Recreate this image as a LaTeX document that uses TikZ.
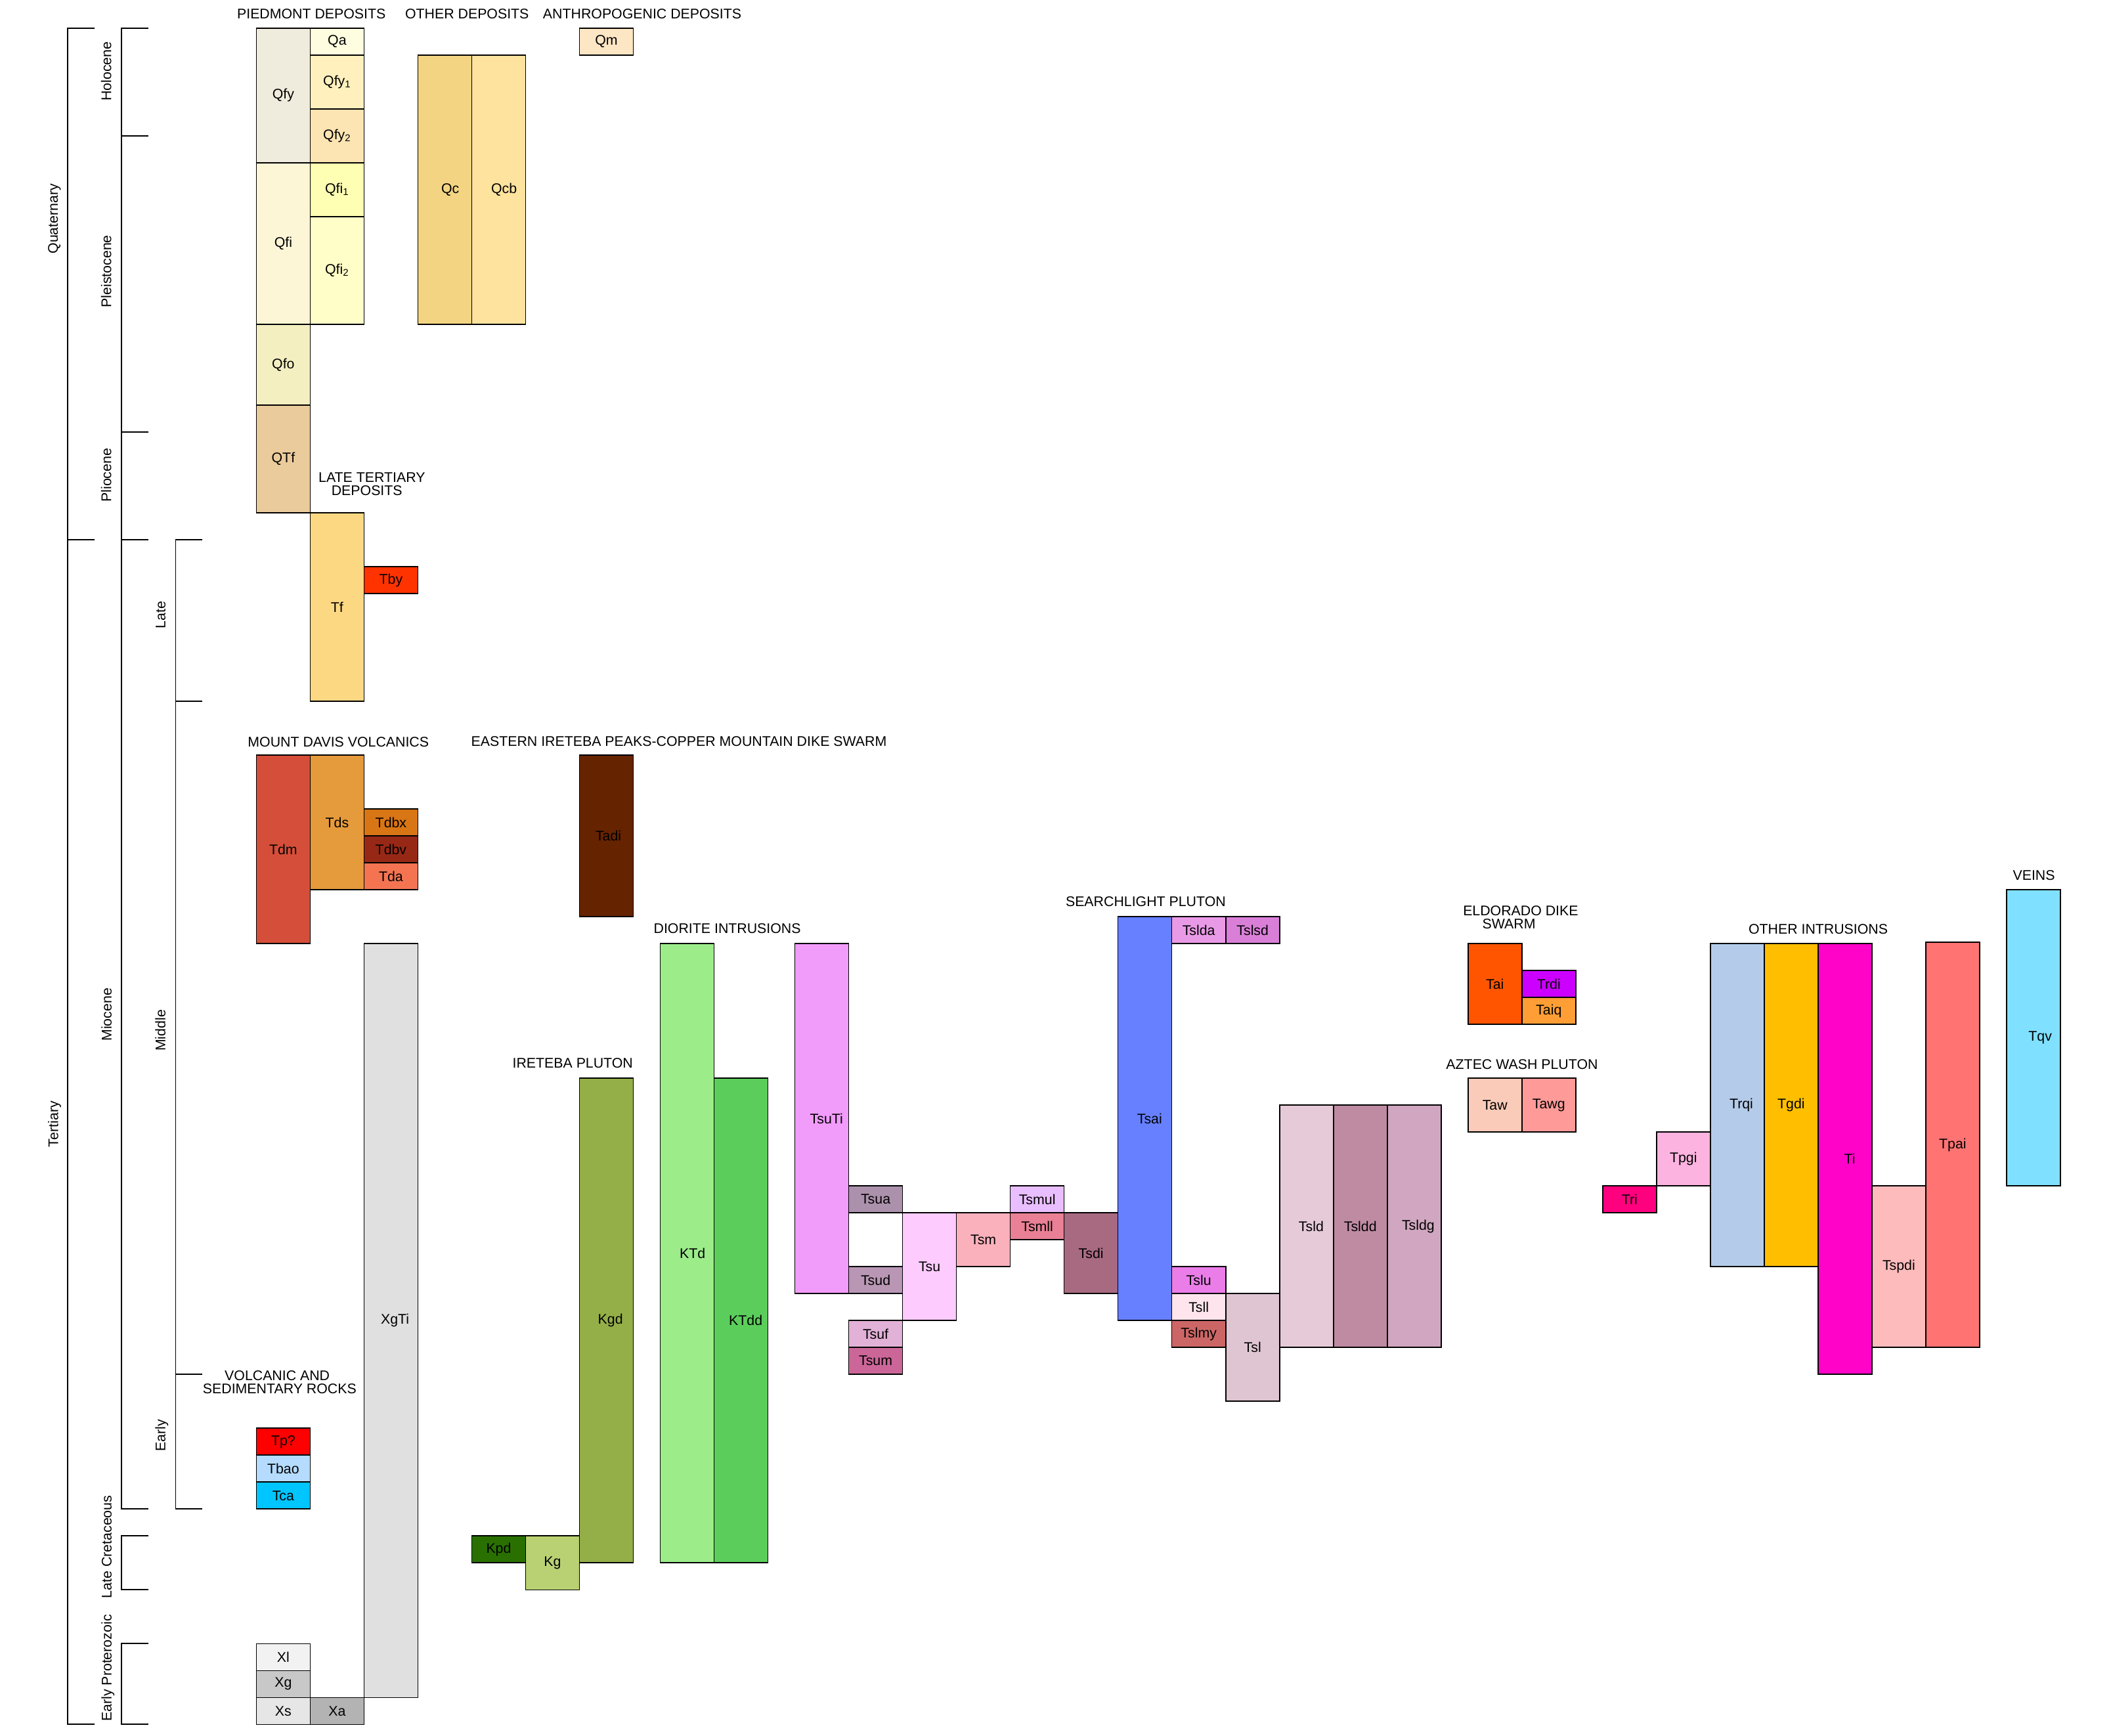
\documentclass[tikz,border=0pt]{standalone}
\usepackage{fontspec}
\setmainfont{Liberation Sans}
\definecolor{cQfy}{HTML}{F0ECDD}
\definecolor{cQa}{HTML}{FEFDE0}
\definecolor{cQfyone}{HTML}{FFF0BE}
\definecolor{cQfytwo}{HTML}{FDE5B3}
\definecolor{cQfi}{HTML}{FCF5D6}
\definecolor{cQfione}{HTML}{FFFFB3}
\definecolor{cQfitwo}{HTML}{FFFEC8}
\definecolor{cQfo}{HTML}{F4EFC1}
\definecolor{cQTf}{HTML}{EACB9B}
\definecolor{cQc}{HTML}{F2D483}
\definecolor{cQcb}{HTML}{FEE39E}
\definecolor{cQm}{HTML}{FDE6C4}
\definecolor{cTf}{HTML}{FDD883}
\definecolor{cTby}{HTML}{FF3300}
\definecolor{cTdm}{HTML}{D54E39}
\definecolor{cTds}{HTML}{E59A3C}
\definecolor{cTdbx}{HTML}{D87514}
\definecolor{cTdbv}{HTML}{982816}
\definecolor{cTda}{HTML}{F47452}
\definecolor{cTadi}{HTML}{662300}
\definecolor{cXgTi}{HTML}{E0E0E0}
\definecolor{cTp}{HTML}{FF0000}
\definecolor{cTbao}{HTML}{B5DCFF}
\definecolor{cTca}{HTML}{00C5FF}
\definecolor{cXl}{HTML}{F2F2F2}
\definecolor{cXg}{HTML}{C8C8C8}
\definecolor{cXs}{HTML}{E6E6E6}
\definecolor{cXa}{HTML}{B3B3B3}
\definecolor{cKgd}{HTML}{95AF48}
\definecolor{cKpd}{HTML}{2A7000}
\definecolor{cKg}{HTML}{BAD173}
\definecolor{cKTd}{HTML}{9CEC8A}
\definecolor{cKTdd}{HTML}{5BCD5B}
\definecolor{cTsuTi}{HTML}{F19BFB}
\definecolor{cTsua}{HTML}{AC91AC}
\definecolor{cTsud}{HTML}{B896B4}
\definecolor{cTsuf}{HTML}{E1B1D7}
\definecolor{cTsum}{HTML}{CC6699}
\definecolor{cTsu}{HTML}{FDCBFD}
\definecolor{cTsm}{HTML}{FBB1BC}
\definecolor{cTsmul}{HTML}{E9BEFF}
\definecolor{cTsmll}{HTML}{E98095}
\definecolor{cTsdi}{HTML}{A86A80}
\definecolor{cTsai}{HTML}{6680FF}
\definecolor{cTslda}{HTML}{E99AE6}
\definecolor{cTslsd}{HTML}{D97FD8}
\definecolor{cTslu}{HTML}{EA7DE8}
\definecolor{cTsll}{HTML}{FEE4EC}
\definecolor{cTslmy}{HTML}{CC6666}
\definecolor{cTsl}{HTML}{DFC5D2}
\definecolor{cTsld}{HTML}{E6CAD8}
\definecolor{cTsldd}{HTML}{BF8BA3}
\definecolor{cTsldg}{HTML}{D0A6C0}
\definecolor{cTai}{HTML}{FF5500}
\definecolor{cTrdi}{HTML}{CC00FF}
\definecolor{cTaiq}{HTML}{FF9E35}
\definecolor{cTaw}{HTML}{FACBB8}
\definecolor{cTawg}{HTML}{FE9B99}
\definecolor{cTri}{HTML}{FF007F}
\definecolor{cTpgi}{HTML}{FDB3E0}
\definecolor{cTrqi}{HTML}{B4CCEA}
\definecolor{cTgdi}{HTML}{FFBF00}
\definecolor{cTi}{HTML}{FF03C8}
\definecolor{cTspdi}{HTML}{FEBBBB}
\definecolor{cTpai}{HTML}{FF7373}
\definecolor{cTqv}{HTML}{80E0FF}
% \bx[doubled text shift]{x1}{y1}{x2}{y2}{label}{colour}{name}
\newcommand\bx[8][0]{%
  \node[ubox, fill=#7, minimum width={(#4-#2)*1pt}, minimum height={(#5-#3)*1pt}]
    (#8) at ({(#2+#4)/2},{(#3+#5)/2}) {\hspace*{#1pt}#6};}
\begin{document}
\begin{tikzpicture}[x=1pt,y=-1pt,
  txt/.style={font=\fontsize{10.4}{12}\selectfont, inner sep=0pt, outer sep=0pt},
  ubox/.style={txt, draw=black, line width=0.8pt, rectangle, anchor=center},
  title/.style={txt, anchor=base},
  vlab/.style={txt, anchor=base, rotate=90},
  brk/.style={line width=0.85pt, black}]
\useasboundingbox[fill=white] (0,0) rectangle (1568,1289.5);
\begin{scope}[shift={(0.4,0.9)}]
% time-scale brackets
\draw[brk] (70,20) -- (50,20) -- (50,1280) -- (70,1280);
\draw[brk] (50,400) -- (70,400);
\draw[brk] (110,20) -- (90,20) -- (90,1120) -- (110,1120);
\draw[brk] (90,100) -- (110,100);
\draw[brk] (90,320) -- (110,320);
\draw[brk] (90,400) -- (110,400);
\draw[brk] (110,1140) -- (90,1140) -- (90,1180) -- (110,1180);
\draw[brk] (110,1220) -- (90,1220) -- (90,1280) -- (110,1280);
\draw[brk] (150,400) -- (130,400) -- (130,1120) -- (150,1120);
\draw[brk] (130,520) -- (150,520);
\draw[brk] (130,1020) -- (150,1020);
% piedmont deposits
\bx{190}{20}{230}{120}{Qfy}{cQfy}{qfy}
\bx{230}{20}{270}{40}{Qa}{cQa}{qa}
\bx{230}{40}{270}{80}{Qfy\textsubscript{1}}{cQfyone}{qfyone}
\bx{230}{80}{270}{120}{Qfy\textsubscript{2}}{cQfytwo}{qfytwo}
\bx{190}{120}{230}{240}{Qfi}{cQfi}{qfi}
\bx{230}{120}{270}{160}{Qfi\textsubscript{1}}{cQfione}{qfione}
\bx{230}{160}{270}{240}{Qfi\textsubscript{2}}{cQfitwo}{qfitwo}
\bx{190}{240}{230}{300}{Qfo}{cQfo}{qfo}
\bx{190}{300}{230}{380}{QTf}{cQTf}{qtf}
% other / anthropogenic
\bx[8]{310}{40}{350}{240}{Qc}{cQc}{qc}
\bx[8]{350}{40}{390}{240}{Qcb}{cQcb}{qcb}
\bx{430}{20}{470}{40}{Qm}{cQm}{qm}
% late tertiary
\bx{230}{380}{270}{520}{Tf}{cTf}{tf}
\bx{270}{420}{310}{440}{Tby}{cTby}{tby}
% mount davis volcanics
\bx{190}{560}{230}{700}{Tdm}{cTdm}{tdm}
\bx{230}{560}{270}{660}{Tds}{cTds}{tds}
\bx{270}{600}{310}{620}{Tdbx}{cTdbx}{tdbx}
\bx{270}{620}{310}{640}{Tdbv}{cTdbv}{tdbv}
\bx{270}{640}{310}{660}{Tda}{cTda}{tda}
\bx[3]{430}{560}{470}{680}{Tadi}{cTadi}{tadi}
\bx[6]{270}{700}{310}{1260}{XgTi}{cXgTi}{xgti}
% volcanic and sedimentary rocks
\bx{190}{1060}{230}{1080}{Tp?}{cTp}{tp}
\bx{190}{1080}{230}{1100}{Tbao}{cTbao}{tbao}
\bx{190}{1100}{230}{1120}{Tca}{cTca}{tca}
% proterozoic
\bx{190}{1220}{230}{1240}{Xl}{cXl}{xl}
\bx{190}{1240}{230}{1260}{Xg}{cXg}{xg}
\bx{190}{1260}{230}{1280}{Xs}{cXs}{xs}
\bx{230}{1260}{270}{1280}{Xa}{cXa}{xa}
% ireteba pluton
\bx[6]{430}{800}{470}{1160}{Kgd}{cKgd}{kgd}
\bx{350}{1140}{390}{1160}{Kpd}{cKpd}{kpd}
\bx{390}{1140}{430}{1180}{Kg}{cKg}{kg}
% diorite intrusions
\bx[8]{490}{700}{530}{1160}{KTd}{cKTd}{ktd}
\bx[7]{530}{800}{570}{1160}{KTdd}{cKTdd}{ktdd}
% searchlight pluton
\bx[7]{590}{700}{630}{960}{TsuTi}{cTsuTi}{tsuti}
\bx{630}{880}{670}{900}{Tsua}{cTsua}{tsua}
\bx{630}{940}{670}{960}{Tsud}{cTsud}{tsud}
\bx{630}{980}{670}{1000}{Tsuf}{cTsuf}{tsuf}
\bx{630}{1000}{670}{1020}{Tsum}{cTsum}{tsum}
\bx{670}{900}{710}{980}{Tsu}{cTsu}{tsu}
\bx{710}{900}{750}{940}{Tsm}{cTsm}{tsm}
\bx{750}{880}{790}{900}{Tsmul}{cTsmul}{tsmul}
\bx{750}{900}{790}{920}{Tsmll}{cTsmll}{tsmll}
\bx{790}{900}{830}{960}{Tsdi}{cTsdi}{tsdi}
\bx[7]{830}{680}{870}{980}{Tsai}{cTsai}{tsai}
\bx{870}{680}{910}{700}{Tslda}{cTslda}{tslda}
\bx{910}{680}{950}{700}{Tslsd}{cTslsd}{tslsd}
\bx{870}{940}{910}{960}{Tslu}{cTslu}{tslu}
\bx{870}{960}{910}{980}{Tsll}{cTsll}{tsll}
\bx{870}{980}{910}{1000}{Tslmy}{cTslmy}{tslmy}
\bx{910}{960}{950}{1040}{Tsl}{cTsl}{tsl}
\bx[7]{950}{820}{990}{1000}{Tsld}{cTsld}{tsld}
\bx{990}{820}{1030}{1000}{Tsldd}{cTsldd}{tsldd}
\bx[6]{1030}{820}{1070}{1000}{Tsldg}{cTsldg}{tsldg}
% eldorado dike swarm
\bx{1090}{700}{1130}{760}{Tai}{cTai}{tai}
\bx{1130}{720}{1170}{740}{Trdi}{cTrdi}{trdi}
\bx{1130}{740}{1170}{760}{Taiq}{cTaiq}{taiq}
% aztec wash pluton
\bx{1090}{800}{1130}{840}{Taw}{cTaw}{taw}
\bx{1130}{800}{1170}{840}{Tawg}{cTawg}{tawg}
% other intrusions
\bx{1190}{880}{1230}{900}{Tri}{cTri}{tri}
\bx{1230}{840}{1270}{880}{Tpgi}{cTpgi}{tpgi}
\bx[6]{1270}{700}{1310}{940}{Trqi}{cTrqi}{trqi}
\bx{1310}{700}{1350}{940}{Tgdi}{cTgdi}{tgdi}
\bx[7]{1350}{700}{1390}{1020}{Ti}{cTi}{ti}
\bx{1390}{880}{1430}{1000}{Tspdi}{cTspdi}{tspdi}
\bx{1430}{699}{1470}{1000}{Tpai}{cTpai}{tpai}
% veins
\bx[10]{1490}{660}{1530}{880}{Tqv}{cTqv}{tqv}
\end{scope}
% time-scale labels
\node[vlab] (lquat) at (43,162.5) {Quaternary};
\node[vlab] (ltert) at (43.2,835) {Tertiary};
\node[vlab] (lholo) at (82.6,53) {Holocene};
\node[vlab] (lplei) at (82.6,201.6) {Pleistocene};
\node[vlab] (lplio) at (82.6,353) {Pliocene};
\node[vlab] (lmioc) at (82.8,753.7) {Miocene};
\node[vlab] (llcre) at (82.8,1149) {Late Cretaceous};
\node[vlab] (lepro) at (82.8,1239) {Early Proterozoic};
\node[vlab] (llate) at (122.8,456.8) {Late};
\node[vlab] (lmidd) at (122.8,765.4) {Middle};
\node[vlab] (learl) at (122.8,1066.3) {Early};
% group titles
\node[title] (tpied) at (231.3,13.7) {PIEDMONT DEPOSITS};
\node[title] (tothr) at (346.9,13.7) {OTHER DEPOSITS};
\node[title] (tanth) at (477,13.7) {ANTHROPOGENIC DEPOSITS};
\node[title] (tlatea) at (276.2,358.2) {LATE TERTIARY};
\node[title] (tlateb) at (272.5,368.2) {DEPOSITS};
\node[title] (tmdv) at (251.3,554.9) {MOUNT DAVIS VOLCANICS};
\node[title] (teip) at (504.3,554.5) {EASTERN IRETEBA PEAKS-COPPER MOUNTAIN DIKE SWARM};
\node[title] (tvsa) at (205.9,1025.3) {VOLCANIC AND};
\node[title] (tvsb) at (207.7,1035.3) {SEDIMENTARY ROCKS};
\node[title] (tire) at (425.4,793.5) {IRETEBA PLUTON};
\node[title] (tdio) at (540.2,693.2) {DIORITE INTRUSIONS};
\node[title] (tsea) at (851,673.3) {SEARCHLIGHT PLUTON};
\node[title] (telda) at (1129.5,679.9) {ELDORADO DIKE};
\node[title] (teldb) at (1120.8,689.9) {SWARM};
\node[title] (tazt) at (1130.5,794.3) {AZTEC WASH PLUTON};
\node[title] (toth) at (1350.5,693.8) {OTHER INTRUSIONS};
\node[title] (tvein) at (1510.7,653.8) {VEINS};
\end{tikzpicture}
\end{document}
